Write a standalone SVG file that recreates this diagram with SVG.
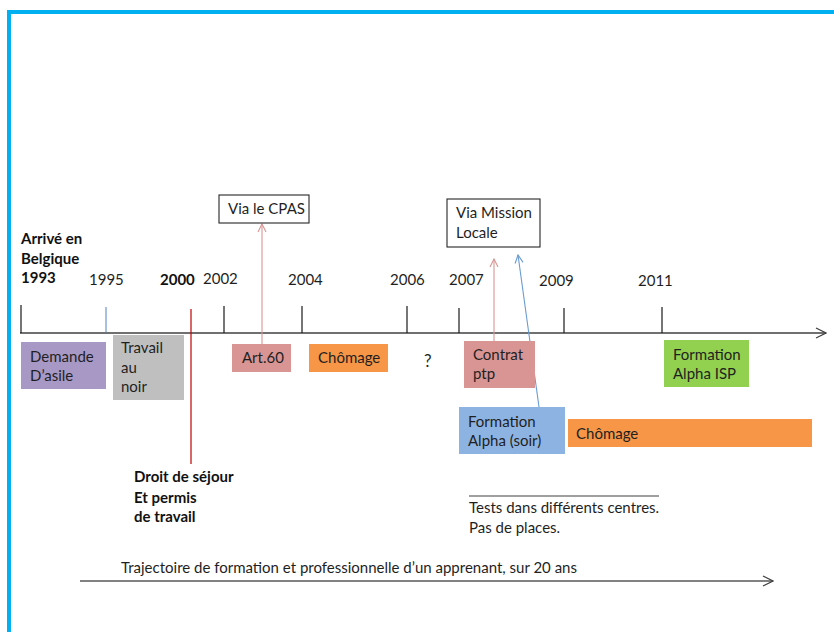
<svg xmlns="http://www.w3.org/2000/svg" width="834" height="632" viewBox="0 0 834 632">
  <defs>
    <marker id="chevAxis" viewBox="0 0 12 12" refX="11" refY="6" markerWidth="12" markerHeight="12" markerUnits="userSpaceOnUse" orient="auto">
      <path d="M1,1 L11,6 L1,11" fill="none" stroke="#404040" stroke-width="1.3"/>
    </marker>
    <marker id="chevPink" viewBox="0 0 10 10" refX="9" refY="5" markerWidth="10" markerHeight="10" markerUnits="userSpaceOnUse" orient="auto">
      <path d="M1,1 L9,5 L1,9" fill="none" stroke="#D99594" stroke-width="1.1"/>
    </marker>
    <marker id="chevBlue" viewBox="0 0 10 10" refX="9" refY="5" markerWidth="10" markerHeight="10" markerUnits="userSpaceOnUse" orient="auto">
      <path d="M1,1 L9,5 L1,9" fill="none" stroke="#6A9BD1" stroke-width="1.1"/>
    </marker>
  </defs>
  <style>
    text { font-family: Lato, "Open Sans", "Liberation Sans", sans-serif; font-size: 15px; fill: #1f1f1f; }
    .b { font-weight: bold; fill: #111; }
    .tick { stroke: #1a1a1a; stroke-width: 1.2; }
    .note { fill: #fff; stroke: #262626; stroke-width: 1.1; }
  </style>

  <rect width="834" height="632" fill="#fff"/>
  <!-- frame -->
  <path d="M9,640 L9,12 L840,12" fill="none" stroke="#00B0F0" stroke-width="4"/>

  <!-- timeline axis with year ticks -->
  <g id="axis">
    <line x1="20" y1="333" x2="826" y2="333" stroke="#404040" stroke-width="1.5" marker-end="url(#chevAxis)"/>
    <line class="tick" x1="21" y1="305" x2="21" y2="333"/>
    <line x1="106" y1="307" x2="106" y2="333" stroke="#4F81BD" stroke-width="1"/>
    <line class="tick" x1="224" y1="306" x2="224" y2="333"/>
    <line class="tick" x1="302" y1="306" x2="302" y2="333"/>
    <line class="tick" x1="407" y1="306" x2="407" y2="333"/>
    <line class="tick" x1="459" y1="308" x2="459" y2="333"/>
    <line class="tick" x1="564" y1="308" x2="564" y2="333"/>
    <line class="tick" x1="662" y1="307" x2="662" y2="333"/>
    <line x1="191" y1="309" x2="191" y2="464" stroke="#C00000" stroke-width="1.2"/>
  </g>

  <g id="years">
    <text class="b" x="21" y="244">Arrivé en</text>
    <text class="b" x="21" y="264">Belgique</text>
    <text class="b" x="21" y="283">1993</text>
    <text x="89" y="285">1995</text>
    <text class="b" x="160" y="285">2000</text>
    <text x="203" y="284">2002</text>
    <text x="288" y="285">2004</text>
    <text x="390" y="285">2006</text>
    <text x="449" y="285">2007</text>
    <text x="539" y="286">2009</text>
    <text x="638" y="286">2011</text>
  </g>

  <!-- connectors -->
  <g id="connectors" fill="none">
    <line x1="262" y1="344" x2="262" y2="224" stroke="#D99594" stroke-width="1.1" marker-end="url(#chevPink)"/>
    <line x1="494" y1="341" x2="494" y2="259" stroke="#D99594" stroke-width="1.1" marker-end="url(#chevPink)"/>
    <line x1="539" y1="407" x2="518" y2="255" stroke="#6A9BD1" stroke-width="1.1" marker-end="url(#chevBlue)"/>
    <line x1="80" y1="581" x2="773" y2="581" stroke="#595959" stroke-width="1.5" marker-end="url(#chevAxis)"/>
    <line x1="469" y1="496" x2="659" y2="496" stroke="#404040" stroke-width="1.2"/>
  </g>

  <g id="demande">
    <rect x="21" y="342" width="85" height="47" fill="#A898C6"/>
    <text x="30" y="362">Demande</text>
    <text x="30" y="381">D’asile</text>
  </g>

  <g id="travail">
    <rect x="113" y="335" width="71" height="65" fill="#BFBFBF"/>
    <text x="121" y="353">Travail</text>
    <text x="121" y="373">au</text>
    <text x="121" y="392">noir</text>
  </g>

  <g id="art60">
    <rect x="232" y="344" width="59" height="28" fill="#D99594"/>
    <text x="242" y="363">Art.60</text>
  </g>

  <g id="chomage1">
    <rect x="309" y="344" width="79" height="28" fill="#F79646"/>
    <text x="318" y="363">Chômage</text>
  </g>

  <g id="inconnu">
    <text x="424" y="367" style="font-size:17px">?</text>
  </g>

  <g id="contrat">
    <rect x="464" y="341" width="71" height="47" fill="#D99594"/>
    <text x="473" y="360">Contrat</text>
    <text x="473" y="379">ptp</text>
  </g>

  <g id="alpha-isp">
    <rect x="664" y="340" width="85" height="47" fill="#92D050"/>
    <text x="673" y="360">Formation</text>
    <text x="673" y="379">Alpha ISP</text>
  </g>

  <g id="alpha-soir">
    <rect x="459" y="407" width="106" height="47" fill="#8DB3E2"/>
    <text x="468" y="427">Formation</text>
    <text x="468" y="446">Alpha (soir)</text>
  </g>

  <g id="chomage2">
    <rect x="568" y="419" width="244" height="28" fill="#F79646"/>
    <text x="576" y="439">Chômage</text>
  </g>

  <g id="cpas">
    <rect class="note" x="219" y="195" width="90" height="28"/>
    <text x="228" y="214">Via le CPAS</text>
  </g>

  <g id="mission">
    <rect class="note" x="447" y="199" width="93" height="48"/>
    <text x="456" y="218">Via Mission</text>
    <text x="456" y="238">Locale</text>
  </g>

  <g id="droit">
    <text class="b" x="134" y="482">Droit de séjour</text>
    <text class="b" x="134" y="503">Et permis</text>
    <text class="b" x="134" y="522">de travail</text>
  </g>

  <g id="tests">
    <text x="469" y="513">Tests dans différents centres.</text>
    <text x="469" y="533">Pas de places.</text>
  </g>

  <g id="caption">
    <text x="121" y="573">Trajectoire de formation et professionnelle d’un apprenant, sur 20 ans</text>
  </g>
</svg>
